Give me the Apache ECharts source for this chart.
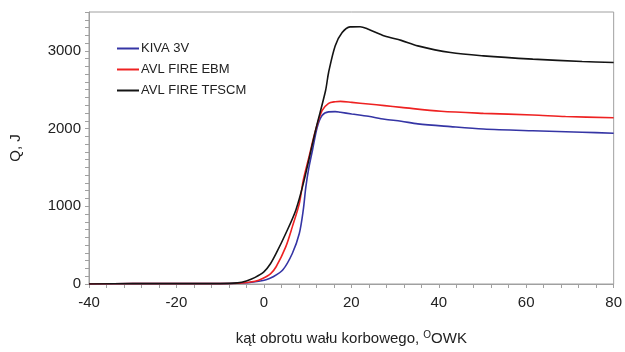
<!DOCTYPE html>
<html>
<head>
<meta charset="utf-8">
<script src="https://cdn.jsdelivr.net/npm/echarts@6/dist/echarts.min.js"></script>
<style>
html, body { margin: 0; padding: 0; background: #fff; }
#chart { width: 625px; height: 352px; }
</style>
</head>
<body>
<div id="chart"></div>
<script>
// kąt obrotu [°OWK], Q [J]
var kivaX = [-40, -30, -20, -10, -5, -2, 0.5, 2, 4.3, 6.5, 8.1, 9, 9.6, 10.3, 11.1, 12.2, 13.3, 14.8, 16.3, 17.5, 20.1, 23.9, 27.6, 31.4, 35.2, 42.7, 50.2, 61.5, 72.8, 80]
var kivaY = [0, 5, 5, 5, 12, 30, 55, 90, 180, 393, 650, 950, 1250, 1500, 1718, 2017, 2167, 2215, 2218, 2209, 2188, 2158, 2120, 2095, 2060, 2025, 1995, 1972, 1953, 1940]

var ebmX = [-40, -30, -20, -10, -5, -2, -0.3, 1.5, 2.8, 5, 6.5, 8.1, 9, 10.3, 11.8, 13.3, 14.8, 16.3, 17.5, 20.1, 23.9, 27.6, 31.4, 40.5, 50.2, 61.5, 69, 80]
var ebmY = [0, 5, 5, 5, 12, 35, 70, 130, 222, 478, 735, 1035, 1333, 1632, 1974, 2230, 2325, 2346, 2350, 2337, 2316, 2295, 2273, 2222, 2196, 2175, 2155, 2140]

var tfscmX = [-40, -30, -20, -10, -6, -4, -2, 0, 1.5, 2.8, 5, 7.3, 9.2, 11.8, 14.1, 14.8, 16.3, 17.9, 19.7, 22, 23.9, 27.6, 31.4, 35.2, 42.7, 50.2, 61.5, 72.8, 80]
var tfscmY = [0, 5, 5, 5, 15, 40, 85, 155, 260, 393, 650, 950, 1333, 1974, 2487, 2722, 3064, 3235, 3308, 3311, 3278, 3192, 3135, 3064, 2978, 2936, 2894, 2863, 2850]

var names = ['KIVA 3V', 'AVL FIRE EBM', 'AVL FIRE TFSCM']
var colors = ['#3535a5', '#ee2222', '#141414']

function pairs(xs, ys) {
	return xs.map(function (x, i) { return [x, ys[i]] })
}

var chart = echarts.init(document.getElementById('chart'))
var axisGray = '#a0a0a0'
var textColor = '#222'

function line(i, xs, ys) {
	return {
		name: names[i], type: 'line', data: pairs(xs, ys),
		smooth: 0.3, showSymbol: false,
		lineStyle: { width: 1.6 }
	}
}

var option = {
	animation: false,
	color: colors,
	grid: {
		left: 84, right: 10, top: 12, bottom: 68,
		show: true, borderColor: axisGray, borderWidth: 1
	},
	legend: {
		orient: 'vertical',
		left: 112, top: 37,
		itemWidth: 22, itemHeight: 2, itemGap: 8,
		icon: 'rect',
		textStyle: { fontFamily: 'Liberation Sans', fontSize: 13, color: textColor, padding: [0, 0, 0, -3] },
		data: names
	},
	xAxis: {
		type: 'value',
		min: -40, max: 80, interval: 20,
		name: 'kąt obrotu wału korbowego, {sup|O}OWK',
		nameLocation: 'middle',
		nameGap: 46,
		nameTextStyle: {
			fontFamily: 'Liberation Sans', fontSize: 15, color: textColor,
			rich: { sup: { fontFamily: 'Liberation Sans', fontSize: 10, color: textColor, verticalAlign: 'top', padding: [0, 0, 8, 0] } }
		},
		axisLine: { onZero: false, lineStyle: { color: axisGray } },
		axisTick: { length: 4, lineStyle: { color: axisGray } },
		minorTick: { show: true, splitNumber: 5, length: 4, lineStyle: { color: axisGray } },
		axisLabel: { fontFamily: 'Liberation Sans', fontSize: 15, color: textColor, margin: 11 },
		splitLine: { show: false }
	},
	yAxis: {
		type: 'value',
		min: 0, max: 3500, interval: 1000,
		name: 'Q, J',
		nameLocation: 'middle',
		nameGap: 66,
		nameTextStyle: { fontFamily: 'Liberation Sans', fontSize: 15, color: textColor },
		axisLine: { show: true, onZero: false, lineStyle: { color: axisGray } },
		axisTick: { length: 4, lineStyle: { color: axisGray } },
		minorTick: { show: true, splitNumber: 10, length: 4, lineStyle: { color: axisGray } },
		axisLabel: {
			fontFamily: 'Liberation Sans', fontSize: 15, color: textColor, margin: 8,
			showMaxLabel: false,
			formatter: function (v) { return String(v) }
		},
		splitLine: { show: false }
	},
	series: [
		line(0, kivaX, kivaY),
		line(1, ebmX, ebmY),
		line(2, tfscmX, tfscmY)
	]
}
chart.setOption(option)
</script>
</body>
</html>
